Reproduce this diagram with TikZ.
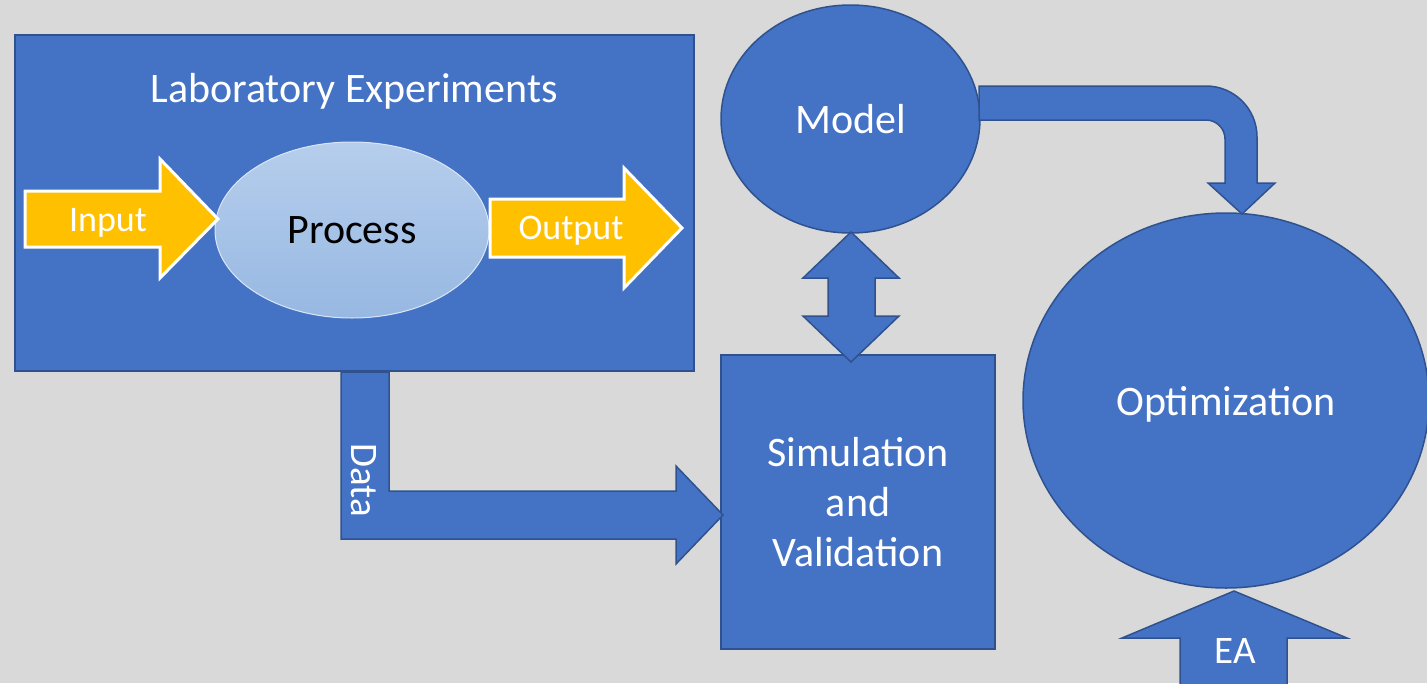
\documentclass[tikz,border=0pt]{standalone}
\usepackage{fontspec}
\setmainfont{Carlito}
\usepackage{xcolor}
\usetikzlibrary{shapes.geometric}
\definecolor{shapeblue}{HTML}{4472C4}
\definecolor{edgeblue}{HTML}{2F528F}
\definecolor{arrowyellow}{HTML}{FFC000}
\definecolor{backgrey}{HTML}{D9D9D9}
\definecolor{processtop}{HTML}{B6CEEC}
\definecolor{processbottom}{HTML}{97B8E2}

\begin{document}
\begin{tikzpicture}[
        x=1pt, y=-1pt,
        bigfont/.style={font=\fontsize{42}{50}\selectfont},
        midfont/.style={font=\fontsize{39}{47}\selectfont},
        smallfont/.style={font=\fontsize{36}{43}\selectfont},
        box/.style={
            rectangle,
            draw=edgeblue,
            fill=shapeblue,
            line width=1.5pt,
            inner sep=0pt,
            text=white,
            align=center,
            bigfont
        },
        blob/.style={
            ellipse,
            draw=edgeblue,
            fill=shapeblue,
            line width=1.5pt,
            inner sep=0pt,
            text=white,
            bigfont
        },
        processblob/.style={
            ellipse,
            draw=processtop!50!white,
            top color=processtop,
            bottom color=processbottom,
            line width=1pt,
            inner sep=0pt,
            text=black,
            bigfont
        },
        boxtitle/.style={text=white, inner sep=0pt, bigfont},
        arrowtext/.style={text=white, inner sep=0pt, smallfont},
        blockarrow/.style={draw=edgeblue, fill=shapeblue, line width=1.5pt, line join=miter},
        yellowarrow/.style={draw=white, fill=arrowyellow, line width=3pt, line join=miter}
    ]

    \useasboundingbox (0,0) rectangle (1427,683);
    \fill [backgrey] (0,0) rectangle (1427,683);

    \node (lab) [box, minimum width=679pt, minimum height=336pt] at (354.5,203) {};
    \node (labtitle) [boxtitle, anchor=base] at (354,102) {Laboratory Experiments};
    \node (process) [processblob, minimum width=274pt, minimum height=176pt] at (352,230) {Process};
    \node (model) [blob, minimum width=259pt, minimum height=228pt] at (850.5,119) {Model};
    \node (sim) [box, minimum width=274pt, minimum height=294pt] at (858,502) {Simulation\\and\\Validation};
    \node (opt) [blob, text depth=0pt, minimum width=406pt, minimum height=375pt] at (1226,400.5) {Optimization};

    \draw [yellowarrow] (25,191) -- (160,191) -- (160,159) -- (218,219) -- (160,278) -- (160,247) -- (25,247) -- cycle;
    \node (input) [arrowtext, anchor=base] at (108,231) {Input};
    \draw [yellowarrow] (490,199) -- (624,199) -- (624,168) -- (682,228) -- (624,288) -- (624,257) -- (490,257) -- cycle;
    \node (output) [arrowtext, anchor=base] at (571,239) {Output};

    \draw [blockarrow] (979,86) -- (1206,86) arc[start angle=-90, end angle=0, radius=51] -- (1257,183) -- (1275,183) -- (1242,214) -- (1208,183) -- (1225,183) -- (1225,139) arc[start angle=0, end angle=-90, radius=19] -- (979,120) -- cycle;
    \draw [blockarrow] (341,372) -- (389,372) -- (389,491) -- (676,491) -- (676,466) -- (723,515) -- (676,564) -- (676,539) -- (341,539) -- cycle;
    \node (data) [boxtitle, midfont, rotate=-90] at (364,480) {Data};
    \draw [blockarrow] (851,232) -- (899,278) -- (875,278) -- (875,316) -- (899,316) -- (851,362) -- (803,316) -- (828,316) -- (828,278) -- (803,278) -- cycle;
    \draw [blockarrow] (1234,591) -- (1347,638) -- (1287,638) -- (1287,700) -- (1180,700) -- (1180,638) -- (1122,638) -- cycle;
    \node (ea) [boxtitle, midfont, anchor=base] at (1235,663) {EA};

\end{tikzpicture}
\end{document}
